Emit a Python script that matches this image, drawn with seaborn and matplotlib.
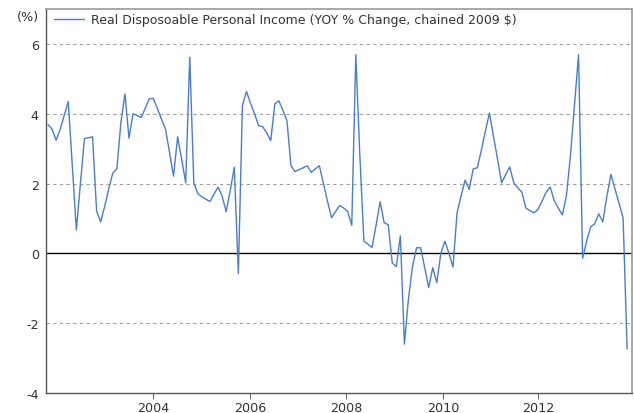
import matplotlib
matplotlib.use("Agg")
import matplotlib.pyplot as plt
import seaborn as sns
import pandas as pd
import numpy as np

# Monthly YoY % change, Jan 2002 .. Dec 2013
values = [
    3.69, 3.56, 3.24, 3.55, 3.95, 4.35, 2.50, 0.67, 2.00, 3.29, 3.31, 3.34,   # 2002
    1.21, 0.90, 1.35, 1.85, 2.30, 2.42, 3.75, 4.57, 3.30, 4.00, 3.95, 3.89,   # 2003
    4.15, 4.43, 4.44, 4.15, 3.85, 3.56, 2.90, 2.21, 3.34, 2.70, 2.02, 5.62,   # 2004
    2.02, 1.71, 1.62, 1.55, 1.49, 1.70, 1.90, 1.64, 1.19, 1.80, 2.47, -0.58,  # 2005
    4.23, 4.64, 4.30, 4.00, 3.66, 3.63, 3.45, 3.23, 4.28, 4.37, 4.10, 3.80,   # 2006
    2.51, 2.34, 2.40, 2.45, 2.51, 2.32, 2.42, 2.51, 2.00, 1.50, 1.02, 1.20,   # 2007
    1.37, 1.30, 1.20, 0.80, 5.69, 2.80, 0.35, 0.26, 0.17, 0.80, 1.48, 0.88,   # 2008
    0.82, -0.27, -0.38, 0.50, -2.60, -1.30, -0.38, 0.16, 0.16, -0.40, -0.98, -0.41,  # 2009
    -0.84, 0.00, 0.35, 0.00, -0.39, 1.16, 1.65, 2.10, 1.83, 2.42, 2.45, 2.95,  # 2010
    3.50, 4.02, 3.35, 2.70, 2.02, 2.25, 2.48, 2.02, 1.88, 1.75, 1.30, 1.22,   # 2011
    1.16, 1.26, 1.50, 1.75, 1.90, 1.51, 1.30, 1.10, 1.64, 2.80, 4.25, 5.69,   # 2012
    -0.14, 0.35, 0.76, 0.85, 1.13, 0.90, 1.64, 2.26, 1.85, 1.44, 1.02, -2.74, # 2013
]
months = list(range(len(values)))
year_labels = ["2004", "2006", "2008", "2010", "2012"]
year_tick_pos = [26.0, 49.9, 73.6, 97.6, 121.1]
y_ticks = [-4, -2, 0, 2, 4, 6]
series_name = "Real Disposoable Personal Income (YOY % Change, chained 2009 $)"

df = pd.DataFrame({"month": months, "value": values, "series": series_name})

sns.set_theme(style="white")
plt.rcParams["font.family"] = ["DejaVu Sans"]

fig = plt.figure(figsize=(6.34, 4.14), dpi=100)
ax = fig.add_axes([45.7 / 634, 1 - 394 / 414, (632 - 45.7) / 634, (394 - 10) / 414])

sns.lineplot(data=df, x="month", y="value", hue="series", palette=["#4a7ec8"],
             linewidth=1.0, ax=ax, legend=True)

ax.set_xlim(-0.57, 144.2)
ax.set_ylim(-4, 7)
ax.set_xticks(year_tick_pos)
ax.set_xticklabels(year_labels)
ax.set_yticks(y_ticks)
ax.set_yticklabels([str(v) for v in y_ticks])
ax.set_xlabel("")
ax.set_ylabel("")

for yv in [-2, 2, 4, 6]:
    ax.axhline(yv, color="#a0a0a0", linestyle=(0, (3, 3)), linewidth=0.8, zorder=0)
ax.axhline(0, color="black", linewidth=1.0, zorder=1)

ax.tick_params(axis="y", length=0, pad=5, labelsize=9.2, labelcolor="#333333")
ax.tick_params(axis="x", length=4, width=0.8, color="#666666", pad=2, labelsize=9.2,
               labelcolor="#333333", direction="out", bottom=True)

for side in ["left", "bottom"]:
    ax.spines[side].set_color("#555555")
    ax.spines[side].set_linewidth(1.0)
for side in ["top", "right"]:
    ax.spines[side].set_color("#999999")
    ax.spines[side].set_linewidth(1.2)

leg = ax.legend(loc="upper left", bbox_to_anchor=(0.0, 1.012), frameon=False,
                fontsize=9.0, handlelength=2.4, handletextpad=0.5,
                borderaxespad=0.3, labelcolor="#333333")

fig.text(28 / 634, 1 - 18 / 414, "(%)", ha="center", va="center",
         fontsize=9.2, color="#333333")

fig.savefig("out.png", dpi=100)
